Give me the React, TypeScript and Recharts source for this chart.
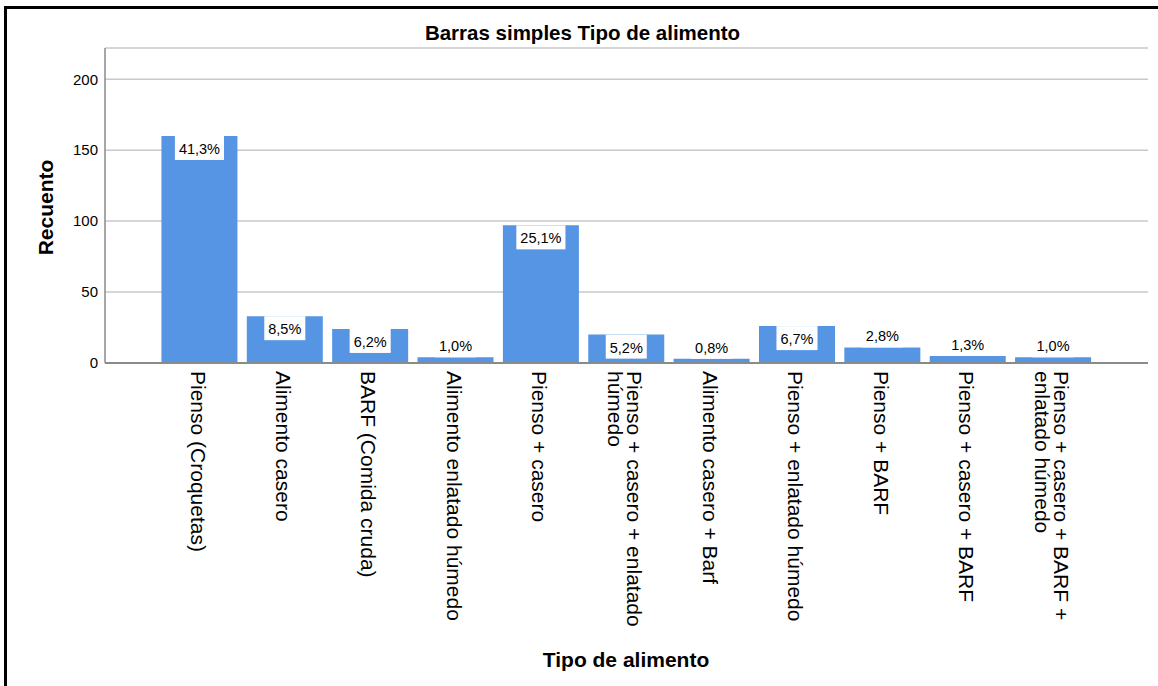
import React from 'react';
import { BarChart, Bar, XAxis, YAxis, CartesianGrid, LabelList } from 'recharts';

const categories = [
  'Pienso (Croquetas)',
  'Alimento casero',
  'BARF (Comida cruda)',
  'Alimento enlatado húmedo',
  'Pienso + casero',
  'Pienso + casero + enlatado húmedo',
  'Alimento casero + Barf',
  'Pienso + enlatado húmedo',
  'Pienso + BARF',
  'Pienso + casero + BARF',
  'Pienso + casero + BARF + enlatado húmedo',
];
const counts = [160, 33, 24, 4, 97, 20, 3, 26, 11, 5, 4];
const percentLabels = ['41,3%', '8,5%', '6,2%', '1,0%', '25,1%', '5,2%', '0,8%', '6,7%', '2,8%', '1,3%', '1,0%'];
const yTicks = [0, 50, 100, 150, 200];
const yMax = 222;

const data = categories.map((name, i) => ({ name, count: counts[i], pct: percentLabels[i] }));

const FONT = '"Liberation Sans", Arial, Helvetica, sans-serif';
const BAR_COLOR = '#5595e3';

function wrapLabel(s: string, maxChars: number): string[] {
  const words = s.split(' ');
  const lines: string[] = [];
  let cur = '';
  for (const w of words) {
    const next = cur ? cur + ' ' + w : w;
    if (next.length > maxChars && cur) {
      lines.push(cur);
      cur = w;
    } else {
      cur = next;
    }
  }
  if (cur) lines.push(cur);
  return lines;
}

const XTick = (props: any) => {
  const { x, y, payload } = props;
  const lines = wrapLabel(String(payload.value), 26);
  const n = lines.length;
  return (
    <g transform={`translate(${x},${y + 8}) rotate(90)`}>
      <text textAnchor="start" fontSize={21} fill="#000" fontFamily={FONT}>
        {lines.map((ln, i) => (
          <tspan key={i} x={0} y={9 - (n - 1) * 9.75 + i * 19.5}>
            {ln}
          </tspan>
        ))}
      </text>
    </g>
  );
};

function textWidth(s: string, fs: number): number {
  let w = 0;
  for (const c of s) {
    if (c === ',') w += 0.278;
    else if (c === '%') w += 0.889;
    else w += 0.556;
  }
  return w * fs;
}

const PctLabel = (props: any) => {
  const { x, y, width, height, value } = props;
  const fs = 14.5;
  const tw = textWidth(String(value), fs);
  const bw = tw + 8;
  const bh = 24;
  const inside = height >= 26;
  const top = inside ? y : y - bh;
  const cx = x + width / 2;
  return (
    <g>
      <rect x={cx - bw / 2} y={top} width={bw} height={bh} fill="#fff" />
      <text x={cx} y={top + 18} textAnchor="middle" fontSize={fs} fill="#000" fontFamily={FONT}>
        {value}
      </text>
    </g>
  );
};

export default function App() {
  return (
    <div style={{ position: 'absolute', left: 0, top: 0, width: 1158, height: 686, background: '#fff', overflow: 'hidden' }}>
      <div
        style={{
          position: 'absolute',
          left: 4,
          top: 6,
          width: 1200,
          height: 720,
          borderLeft: '3px solid #000',
          borderTop: '3px solid #000',
          boxSizing: 'border-box',
        }}
      />
      <div style={{ position: 'absolute', left: 0, top: 0 }}>
        <BarChart
          width={1158}
          height={686}
          data={data}
          margin={{ top: 48, right: 10, bottom: 23, left: 0 }}
          barCategoryGap="5.2%"
        >
          <CartesianGrid vertical={false} stroke="#c8c8c8" strokeWidth={1.5} />
          <XAxis
            dataKey="name"
            interval={0}
            height={300}
            tickLine={false}
            tickSize={0}
            tickMargin={0}
            axisLine={{ stroke: '#8a8a8a', strokeWidth: 2 }}
            padding={{ left: 52, right: 52 }}
            tick={<XTick />}
          />
          <YAxis
            width={105}
            domain={[0, yMax]}
            ticks={yTicks}
            tickLine={false}
            tickSize={0}
            tickMargin={7}
            axisLine={{ stroke: '#8a8a8a', strokeWidth: 1.5 }}
            tick={{ fontSize: 15, fill: '#000', fontFamily: FONT }}
          />
          <Bar dataKey="count" fill={BAR_COLOR} isAnimationActive={false}>
            <LabelList dataKey="pct" content={<PctLabel />} />
          </Bar>
        </BarChart>
      </div>
      <svg
        width={1158}
        height={686}
        style={{ position: 'absolute', left: 0, top: 0, pointerEvents: 'none' }}
      >
        <text x={582.5} y={40} textAnchor="middle" fontSize={20.5} fontWeight="bold" fill="#000" fontFamily={FONT}>
          Barras simples Tipo de alimento
        </text>
        <text x={626} y={666.5} textAnchor="middle" fontSize={21} fontWeight="bold" fill="#000" fontFamily={FONT}>
          Tipo de alimento
        </text>
        <text
          transform="translate(53,207.5) rotate(-90)"
          textAnchor="middle"
          fontSize={21}
          fontWeight="bold"
          fill="#000"
          fontFamily={FONT}
        >
          Recuento
        </text>
      </svg>
    </div>
  );
}
